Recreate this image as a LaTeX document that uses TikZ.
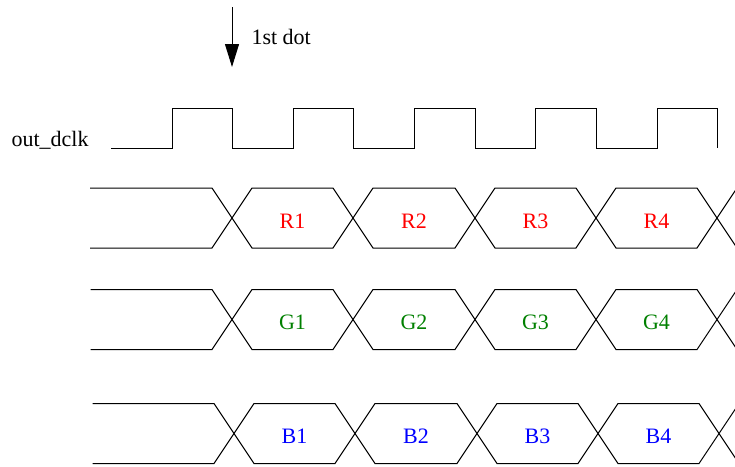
\documentclass[tikz,border=0pt]{standalone}
\usepackage{fontspec}
\setmainfont{Liberation Serif}
\usetikzlibrary{arrows.meta}
\definecolor{redbit}{RGB}{255, 0, 0}
\definecolor{greenbit}{RGB}{0, 128, 0}
\definecolor{bluebit}{RGB}{0, 0, 255}

\begin{document}
\begin{tikzpicture}[x=1pt, y=-1pt, line width=1pt,
    wave/.style={draw=black, line join=miter},
    bit/.style={anchor=base, inner sep=0pt, font=\fontsize{22}{26}\selectfont},
    note/.style={inner sep=0pt, font=\fontsize{22}{26}\selectfont}]
            \useasboundingbox                                  (0, 0) rectangle (735, 466);
            % marker
            \coordinate (tail) at (232, 7);
            \coordinate (tip)  at (232, 67);
            \draw[-{Triangle[length=23pt, width=14pt]}] (tail) -- (tip);
            \node[note, anchor=west]      (first) at (251, 37)    {1st dot};
            % clock
            \node[note, anchor=base west] (clk)   at (11, 146.5)  {out\_dclk};
            \draw[wave] (111,148) -- (172,148) -- (172,108) -- (232,108) -- (232,148) -- (293,148) -- (293,108)
                     -- (353,108) -- (353,148) -- (414,148) -- (414,108) -- (475,108) -- (475,148) -- (535,148)
                     -- (535,108) -- (596,108) -- (596,148) -- (657,148) -- (657,108) -- (717,108) -- (717,148);
            % red bus
            \draw[wave] (90,188) -- (212,188) -- (252,248) -- (333,248) -- (373,188) -- (455,188) -- (495,248)
                     -- (576,248) -- (616,188) -- (697,188) -- (737,248);
            \draw[wave] (90,248) -- (212,248) -- (252,188) -- (333,188) -- (373,248) -- (455,248) -- (495,188)
                     -- (576,188) -- (616,248) -- (697,248) -- (737,188);
            \node[bit, redbit]   (R1) at (292.5, 228) {R1};
            \node[bit, redbit]   (R2) at (414.0, 228) {R2};
            \node[bit, redbit]   (R3) at (535.5, 228) {R3};
            \node[bit, redbit]   (R4) at (656.5, 228) {R4};
            % green bus
            \draw[wave] (90.5,289.5) -- (212,289.5) -- (252,349.5) -- (333,349.5) -- (373,289.5) -- (455,289.5) -- (495,349.5)
                     -- (576,349.5) -- (616,289.5) -- (697,289.5) -- (737,349.5);
            \draw[wave] (90.5,349.5) -- (212,349.5) -- (252,289.5) -- (333,289.5) -- (373,349.5) -- (455,349.5) -- (495,289.5)
                     -- (576,289.5) -- (616,349.5) -- (697,349.5) -- (737,289.5);
            \node[bit, greenbit] (G1) at (292.5, 329.5) {G1};
            \node[bit, greenbit] (G2) at (414.0, 329.5) {G2};
            \node[bit, greenbit] (G3) at (535.5, 329.5) {G3};
            \node[bit, greenbit] (G4) at (656.5, 329.5) {G4};
            % blue bus
            \draw[wave] (92.5,403.5) -- (214,403.5) -- (254,463.5) -- (335,463.5) -- (375,403.5) -- (457,403.5) -- (497,463.5)
                     -- (578,463.5) -- (618,403.5) -- (699,403.5) -- (739,463.5);
            \draw[wave] (92.5,463.5) -- (214,463.5) -- (254,403.5) -- (335,403.5) -- (375,463.5) -- (457,463.5) -- (497,403.5)
                     -- (578,403.5) -- (618,463.5) -- (699,463.5) -- (739,403.5);
            \node[bit, bluebit]  (B1) at (294.5, 443.5) {B1};
            \node[bit, bluebit]  (B2) at (416.0, 443.5) {B2};
            \node[bit, bluebit]  (B3) at (537.5, 443.5) {B3};
            \node[bit, bluebit]  (B4) at (658.5, 443.5) {B4};
        \end{tikzpicture}
\end{document}
